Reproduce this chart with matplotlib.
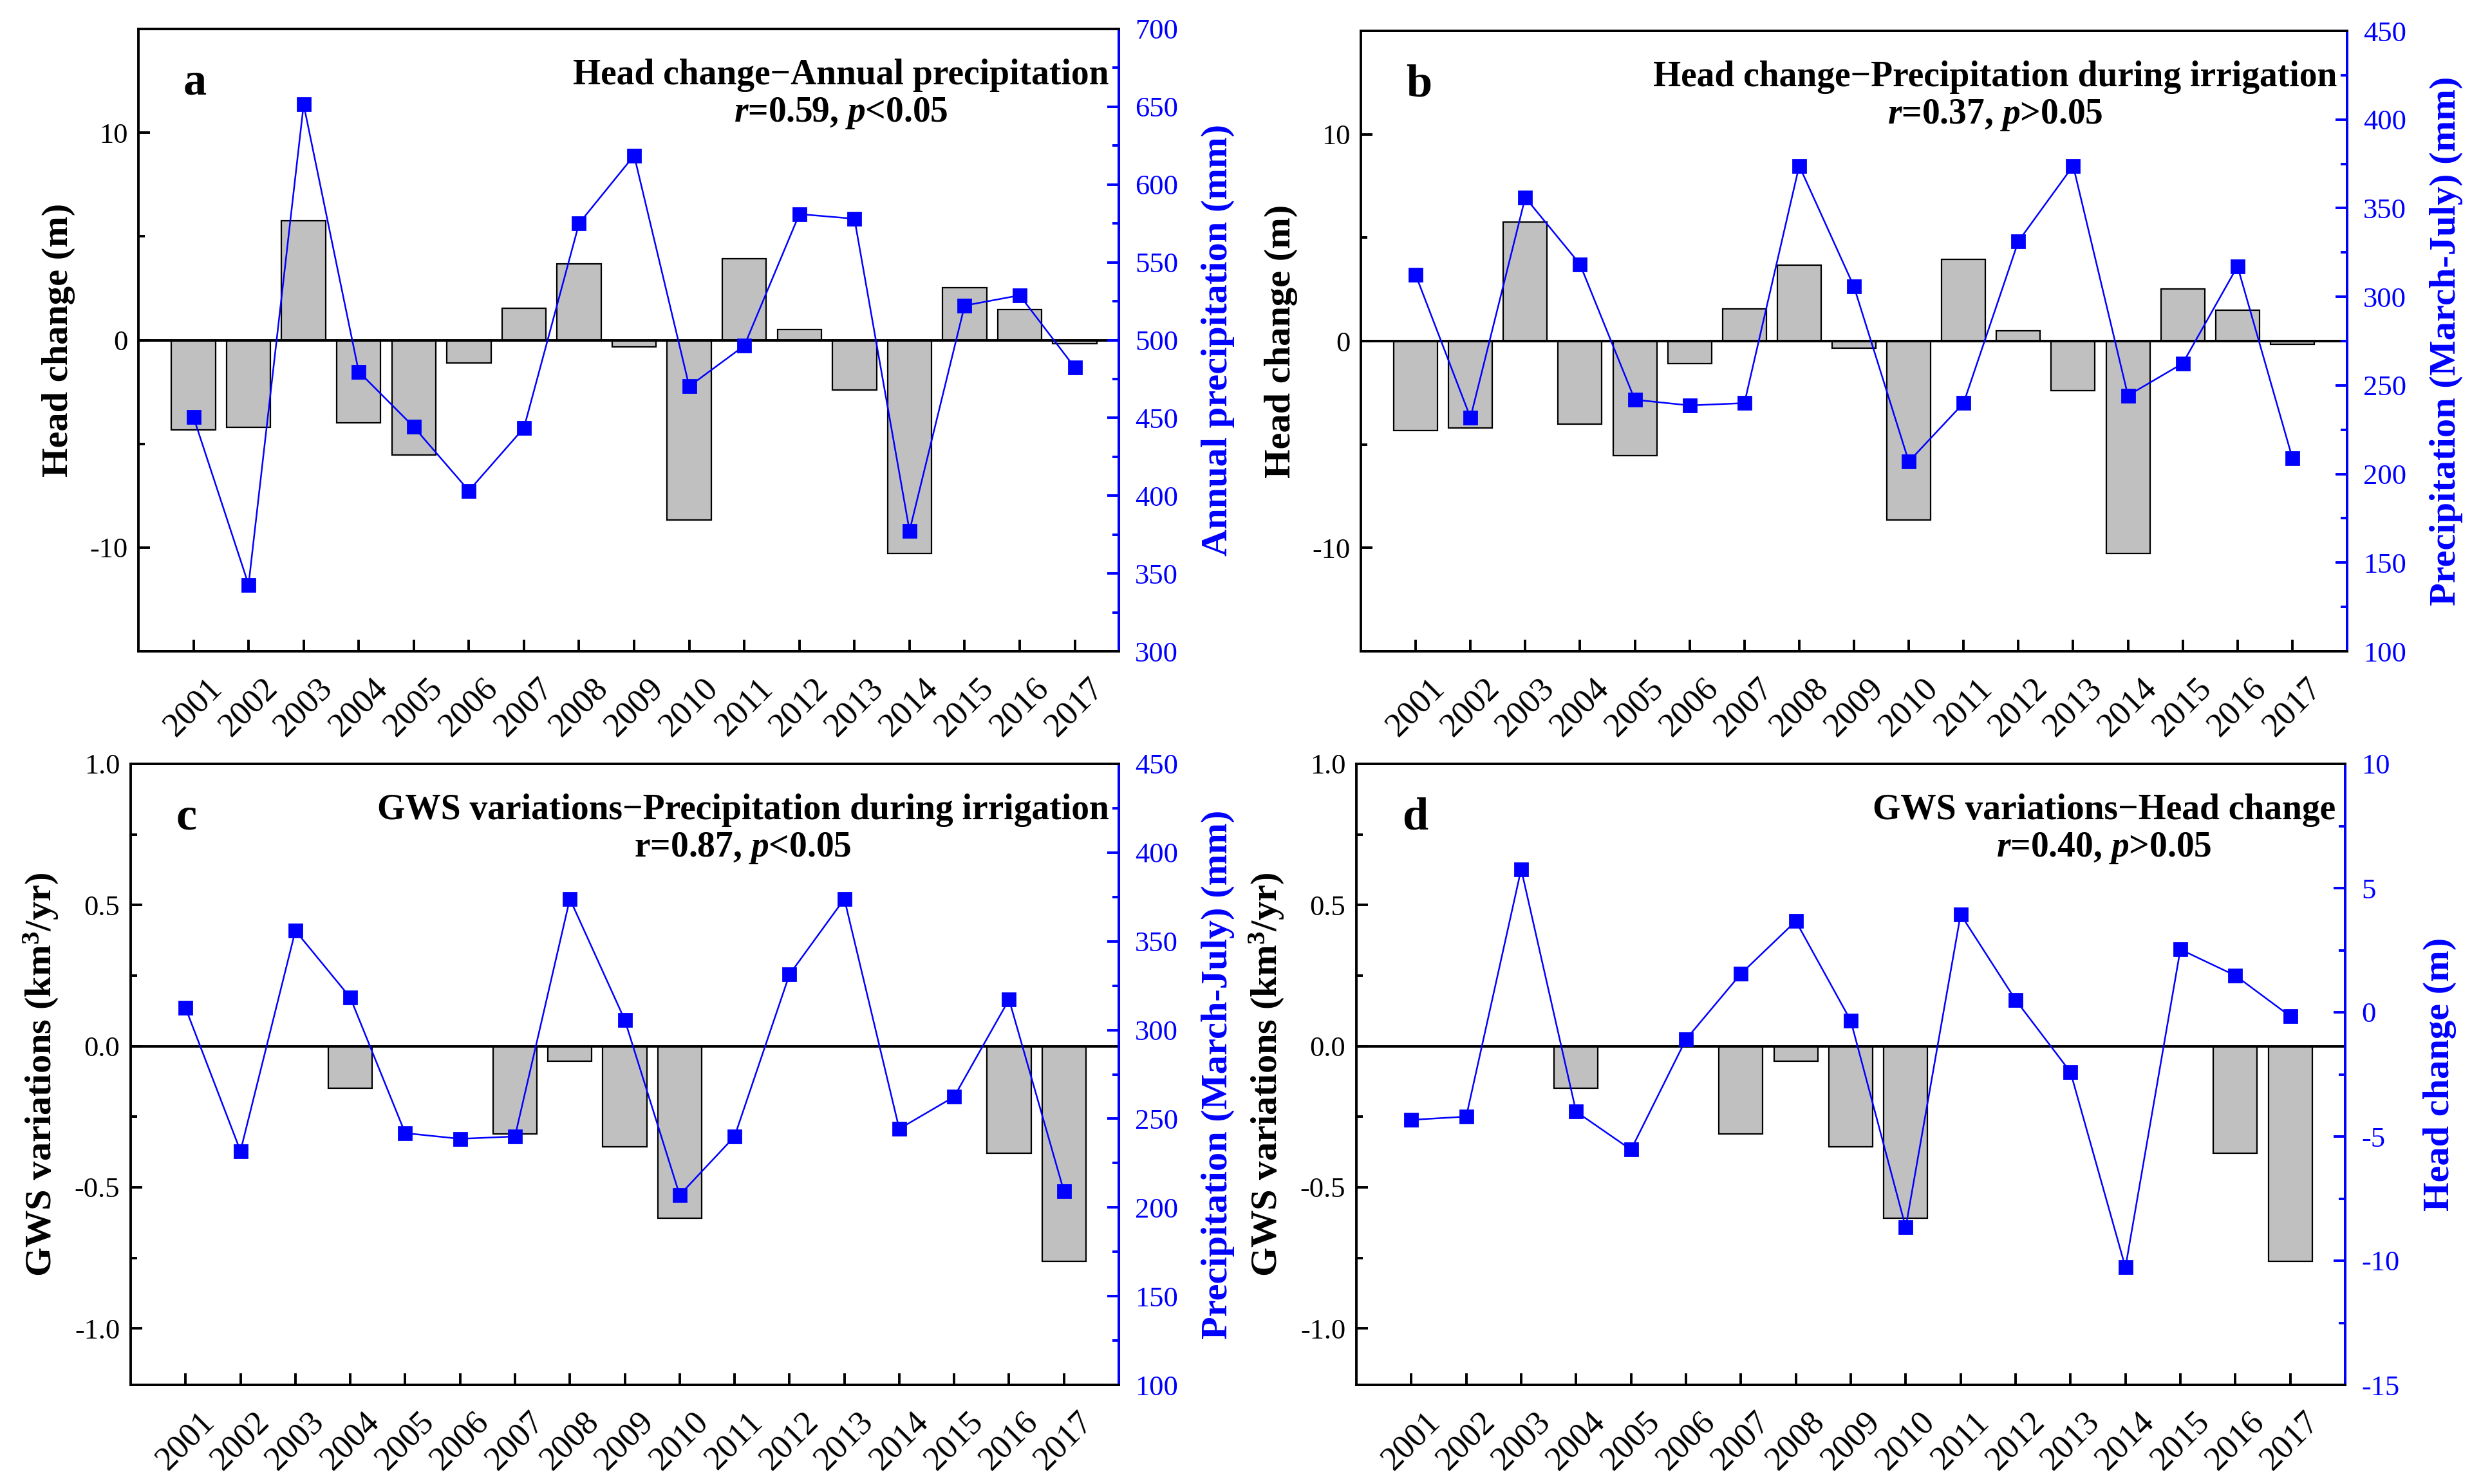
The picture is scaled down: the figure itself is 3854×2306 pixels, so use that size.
import numpy as np
import matplotlib
matplotlib.use('Agg')
import matplotlib.pyplot as plt
from matplotlib.ticker import MultipleLocator, FormatStrFormatter

plt.rcParams['font.family'] = ['Liberation Serif', 'DejaVu Serif']
plt.rcParams['mathtext.fontset'] = 'custom'
plt.rcParams['mathtext.rm'] = 'Liberation Serif:bold'
plt.rcParams['mathtext.bf'] = 'Liberation Serif:bold'
plt.rcParams['mathtext.it'] = 'Liberation Serif:italic:bold'
plt.rcParams['axes.unicode_minus'] = False

years = np.arange(2001, 2018)

# head change (m), bars in a/b, line in d
head_change = [-4.33, -4.2, 5.76, -4.0, -5.53, -1.09, 1.55, 3.67, -0.34,
               -8.66, 3.94, 0.5, -2.41, -10.27, 2.53, 1.48, -0.16]

# annual precipitation (mm)
annual_precip = [450.5, 342.8, 651.4, 479.7, 444.2, 403.2, 443.6, 575.0, 618.7,
                 470.3, 496.4, 581.0, 578.0, 377.4, 522.2, 528.8, 482.4]

# precipitation March-July (mm)
irrig_precip = [312.4, 231.8, 356.0, 318.3, 241.9, 238.7, 240.0, 373.9, 305.7,
                207.0, 240.0, 331.3, 373.9, 244.3, 262.4, 317.2, 209.1]

# GWS variations (km3/yr)
nan = np.nan
gws = [nan, nan, nan, -0.149, nan, nan, -0.312, -0.054, -0.357,
       -0.609, nan, nan, nan, nan, nan, -0.379, -0.762]

W, H = 3854, 2306
fig = plt.figure(figsize=(W / 200, H / 200), dpi=200)

BLUE = '#0000ff'
SPW = 1.4


def box(l, r, t, b):
    return [l / W, 1 - b / H, (r - l) / W, (b - t) / H]


def panel(rect, bars, line, xlim, ylim, ymaj, ymin, ylab,
          ylim2, ymaj2, ymin2, ylab2, letter, title, stat, fmt=None):
    ax = fig.add_axes(rect)
    ax.bar(years, bars, width=0.8, color='#c0c0c0', edgecolor='black',
           linewidth=0.8, zorder=2)
    ax.axhline(0, color='black', lw=SPW, zorder=3)
    ax.set_xlim(*xlim)
    ax.set_ylim(*ylim)
    ax.yaxis.set_major_locator(MultipleLocator(ymaj))
    ax.yaxis.set_minor_locator(MultipleLocator(ymin))
    if fmt:
        ax.yaxis.set_major_formatter(FormatStrFormatter(fmt))
    ax.set_xticks(years)
    ax.set_xticklabels([str(y) for y in years], rotation=45, fontsize=19)
    ax.tick_params(axis='x', direction='in', length=6.5, width=SPW, pad=12)
    ax.tick_params(axis='y', which='major', direction='in', length=6.5,
                   width=SPW, labelsize=16, pad=6)
    ax.tick_params(axis='y', which='minor', direction='in', length=3.5,
                   width=SPW)
    ax.set_ylabel(ylab, fontsize=21, fontweight='bold', labelpad=8)
    for s in ax.spines.values():
        s.set_linewidth(SPW)

    ax2 = ax.twinx()
    ax2.plot(years, line, color=BLUE, lw=0.9, marker='s', markersize=7.5,
             markeredgecolor=BLUE, markerfacecolor=BLUE)
    ax2.set_ylim(*ylim2)
    ax2.yaxis.set_major_locator(MultipleLocator(ymaj2))
    ax2.yaxis.set_minor_locator(MultipleLocator(ymin2))
    ax2.tick_params(axis='y', which='major', direction='in', length=6.5,
                    width=SPW, labelsize=16, colors=BLUE, pad=9)
    ax2.tick_params(axis='y', which='minor', direction='in', length=3.5,
                    width=SPW, colors=BLUE)
    ax2.set_ylabel(ylab2, fontsize=21, fontweight='bold', color=BLUE,
                   labelpad=13)
    for s in ax2.spines.values():
        s.set_linewidth(SPW)
    ax2.spines['right'].set_color(BLUE)
    ax2.spines['left'].set_visible(False)

    ax.text(0.046, 0.895, letter, transform=ax.transAxes, fontsize=26,
            fontweight='bold', ha='left', va='baseline')
    ax.text(0.99, 0.952, title + '\n' + stat, transform=ax.transAxes,
            fontsize=20, fontweight='bold', ha='right', va='top',
            multialignment='center', linespacing=1.15)
    return ax, ax2


panel(box(215, 1738, 45, 1012), head_change, annual_precip,
      (2000.0, 2017.8), (-15, 15), 10, 5, 'Head change (m)',
      (300, 700), 50, 25, 'Annual precipitation (mm)', 'a',
      'Head change\u2212Annual precipitation',
      r'$r$=0.59, $p$<0.05')

panel(box(2114, 3646, 48, 1012), head_change, irrig_precip,
      (2000.0, 2018.0), (-15, 15), 10, 5, 'Head change (m)',
      (100, 450), 50, 25, 'Precipitation (March-July) (mm)', 'b',
      'Head change\u2212Precipitation during irrigation',
      r'$r$=0.37, $p$>0.05')

panel(box(203, 1738, 1187, 2152), gws, irrig_precip,
      (2000.0, 2018.0), (-1.2, 1.0), 0.5, 0.25,
      r'GWS variations (km$^\mathbf{3}$/yr)',
      (100, 450), 50, 25, 'Precipitation (March-July) (mm)', 'c',
      'GWS variations\u2212Precipitation during irrigation',
      r'r=0.87, $p$<0.05', fmt='%.1f')

panel(box(2107, 3643, 1187, 2152), gws, head_change,
      (2000.0, 2018.0), (-1.2, 1.0), 0.5, 0.25,
      r'GWS variations (km$^\mathbf{3}$/yr)',
      (-15, 10), 5, 2.5, 'Head change (m)', 'd',
      'GWS variations\u2212Head change',
      r'$r$=0.40, $p$>0.05', fmt='%.1f')

fig.savefig('out.png', dpi=200, facecolor='white')
